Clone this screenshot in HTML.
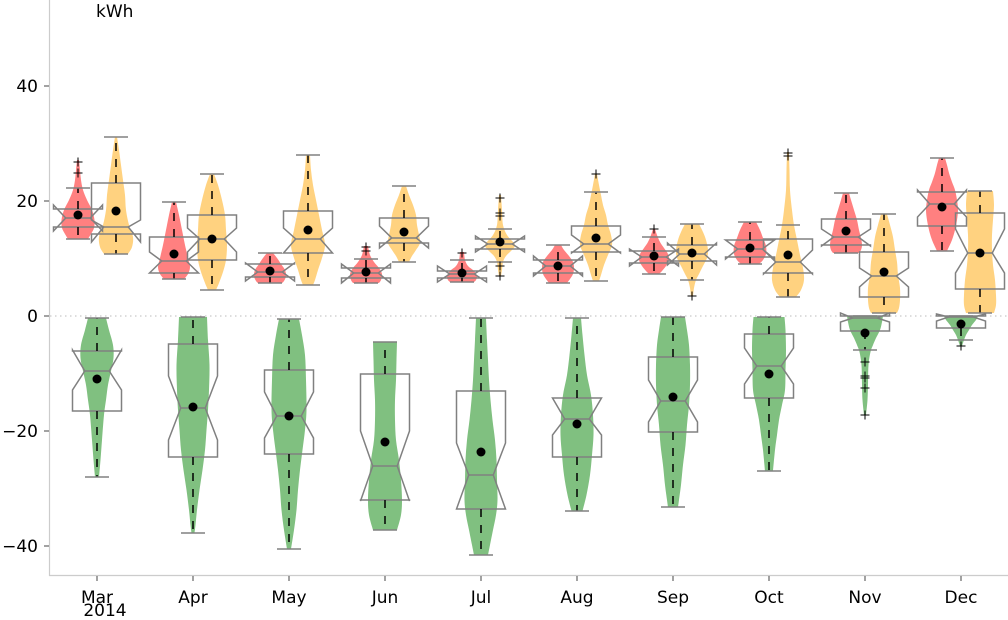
<!DOCTYPE html>
<html><head><meta charset="utf-8">
<style>
html,body{margin:0;padding:0;background:#fff;}
svg{display:block;}
text{font-family:"DejaVu Sans","Liberation Sans",sans-serif;font-size:17px;fill:#000;}
</style></head>
<body>
<svg id="svg" width="1008" height="620" viewBox="0 0 1008 620" xmlns="http://www.w3.org/2000/svg">
<rect width="1008" height="620" fill="#fff"/>
<line x1="50" y1="316" x2="1008" y2="316" stroke="#bbbbbb" stroke-width="1" stroke-dasharray="1.5,3.5"/>
<g id="plot"></g>
<line x1="49.5" y1="0" x2="49.5" y2="576" stroke="#cccccc" stroke-width="1.2"/>
<line x1="49" y1="575.5" x2="1008" y2="575.5" stroke="#cccccc" stroke-width="1.2"/>
<g stroke="#444" stroke-width="1">
<line x1="44" y1="86" x2="49" y2="86"/>
<line x1="44" y1="201" x2="49" y2="201"/>
<line x1="44" y1="316" x2="49" y2="316"/>
<line x1="44" y1="431" x2="49" y2="431"/>
<line x1="44" y1="546" x2="49" y2="546"/>
<line x1="97" y1="576" x2="97" y2="581"/>
<line x1="193" y1="576" x2="193" y2="581"/>
<line x1="289" y1="576" x2="289" y2="581"/>
<line x1="385" y1="576" x2="385" y2="581"/>
<line x1="481" y1="576" x2="481" y2="581"/>
<line x1="577" y1="576" x2="577" y2="581"/>
<line x1="673" y1="576" x2="673" y2="581"/>
<line x1="769" y1="576" x2="769" y2="581"/>
<line x1="865" y1="576" x2="865" y2="581"/>
<line x1="961" y1="576" x2="961" y2="581"/>
</g>
<g text-anchor="end">
<text x="38" y="92">40</text>
<text x="38" y="207">20</text>
<text x="38" y="322">0</text>
<text x="38" y="437">−20</text>
<text x="38" y="552">−40</text>
</g>
<g text-anchor="middle">
<text x="97" y="603">Mar</text>
<text x="105" y="616">2014</text>
<text x="193" y="603">Apr</text>
<text x="289" y="603">May</text>
<text x="385" y="603">Jun</text>
<text x="481" y="603">Jul</text>
<text x="577" y="603">Aug</text>
<text x="673" y="603">Sep</text>
<text x="769" y="603">Oct</text>
<text x="865" y="603">Nov</text>
<text x="961" y="603">Dec</text>
</g>
<text x="96" y="17">kWh</text>
</svg>
<script>
(function(){
const NS='http://www.w3.org/2000/svg';
const g=document.getElementById('plot');
function el(tag,attrs){const e=document.createElementNS(NS,tag);for(const k in attrs)e.setAttribute(k,attrs[k]);g.appendChild(e);return e;}
function cr(pts){let d='';for(let i=0;i<pts.length-1;i++){const p0=pts[i-1]||pts[i],p1=pts[i],p2=pts[i+1],p3=pts[i+2]||p2;
const c1=[p1[0]+(p2[0]-p0[0])/6,p1[1]+(p2[1]-p0[1])/6];const c2=[p2[0]-(p3[0]-p1[0])/6,p2[1]-(p3[1]-p1[1])/6];
d+='C'+c1[0].toFixed(2)+','+c1[1].toFixed(2)+' '+c2[0].toFixed(2)+','+c2[1].toFixed(2)+' '+p2[0]+','+p2[1];}return d;}
function violin(cx,prof,color){const L=prof.map(p=>[cx-p[1],p[0]]);const R=prof.slice().reverse().map(p=>[cx+p[1],p[0]]);
const d='M'+L[0][0]+','+L[0][1]+cr(L)+'L'+R[0][0]+','+R[0][1]+cr(R)+'Z';el('path',{d:d,fill:color});}
const RED='#ff8080',ORA='#ffd280',GRN='#80c080';
const D=[
{cx:78,c:RED,t:209,b:227,m:218,nT:205,nB:231,wT:188,wB:239,mean:215,out:[162,173],v:[[160,1],[170,2],[180,3],[190,5],[200,9],[210,14],[220,16.5],[228,16],[234,13],[239,10]]},
{cx:116,c:ORA,t:183,b:234,m:227,nT:220,nB:242,wT:137,wB:254,mean:211,out:[],v:[[137,1],[150,3],[165,5],[180,7],[195,9],[210,10],[225,13],[237,17],[247,16],[254,12]]},
{cx:97,c:GRN,t:351,b:411,m:371,nT:350,nB:390,wT:318,wB:477,mean:379,out:[],v:[[318,9],[330,12],[345,16],[358,16.5],[371,14],[385,11],[400,9],[415,7],[440,5],[460,3.5],[477,2]]},
{cx:174,c:RED,t:237,b:273,m:261,nT:252,nB:273,wT:202,wB:279,mean:254,out:[],v:[[202,2],[215,5],[230,8],[245,11],[258,14],[267,16],[274,14],[279,10]]},
{cx:212,c:ORA,t:215,b:260,m:239,nT:228,nB:252,wT:174,wB:290,mean:239,out:[],v:[[174,2],[185,6],[200,10],[215,13],[230,14],[245,15],[260,14],[272,11],[283,7],[290,4]]},
{cx:193,c:GRN,t:344,b:457,m:408,nT:376,nB:440,wT:317,wB:533,mean:407,out:[],v:[[317,14],[340,15],[365,16.5],[390,16],[410,15],[430,13.5],[450,12],[470,9.5],[490,6.5],[510,4],[525,2.5],[533,1.5]]},
{cx:270,c:RED,t:264,b:277,m:272,nT:263,nB:281,wT:253,wB:283,mean:271,out:[],v:[[253,3],[258,7],[264,11],[270,15],[276,16],[281,14],[283,12]]},
{cx:308,c:ORA,t:211,b:253,m:239,nT:228,nB:253,wT:155,wB:285,mean:230,out:[],v:[[155,2],[170,3],[185,5],[200,8],[215,11],[230,14],[245,17],[258,14],[270,10],[280,7],[285,5]]},
{cx:289,c:GRN,t:370,b:454,m:416,nT:392,nB:438,wT:319,wB:549,mean:416,out:[],v:[[319,10],[335,13],[355,16],[380,17],[410,17.5],[430,16],[450,13.5],[470,11],[490,9],[510,7.5],[530,5],[549,2]]},
{cx:366,c:RED,t:268,b:278,m:273,nT:264,nB:283,wT:259,wB:283,mean:272,out:[247,251],v:[[246,2],[255,4],[262,8],[268,13],[274,16],[280,15],[283,13]]},
{cx:404,c:ORA,t:218,b:243,m:238,nT:226,nB:248,wT:186,wB:262,mean:232,out:[],v:[[186,2],[195,5],[205,9],[215,12],[225,13],[235,15],[243,16],[250,12],[256,8],[262,5]]},
{cx:385,c:GRN,t:374,b:500,m:466,nT:431,nB:501,wT:342,wB:530,mean:442,out:[],v:[[342,12],[360,11.5],[380,11],[400,10],[420,10],[440,11],[460,14],[480,16],[500,17],[515,16],[530,12]]},
{cx:462,c:RED,t:271,b:278,m:274,nT:266,nB:282,wT:260,wB:282,mean:273,out:[253],v:[[252,2],[260,3],[266,6],[271,12],[276,15],[280,14],[282,12]]},
{cx:500,c:ORA,t:239,b:249,m:244,nT:236,nB:252,wT:229,wB:262,mean:242,out:[198,213,216,266,276],v:[[195,1],[210,2],[225,3],[235,7],[242,13],[246,15],[251,11],[256,6],[262,3],[270,2],[276,1]]},
{cx:481,c:GRN,t:391,b:509,m:475,nT:443,nB:509,wT:318,wB:555,mean:452,out:[],v:[[318,5],[340,6],[360,7],[380,8],[400,9.5],[420,11.5],[440,14],[460,15.5],[480,16],[500,16.5],[515,15],[530,12],[545,9],[555,7]]},
{cx:558,c:RED,t:260,b:273,m:266,nT:256,nB:276,wT:245,wB:283,mean:266,out:[],v:[[245,3],[250,6],[256,11],[262,15],[268,16],[274,15],[279,12],[283,9]]},
{cx:596,c:ORA,t:226,b:252,m:244,nT:235,nB:253,wT:192,wB:281,mean:238,out:[174],v:[[174,1],[185,3],[195,5],[205,7],[215,10],[225,12],[235,15],[245,16],[255,12],[265,8],[275,5],[281,3]]},
{cx:577,c:GRN,t:398,b:457,m:419,nT:398,nB:435,wT:318,wB:511,mean:424,out:[],v:[[318,4],[335,5.5],[355,7.5],[375,10],[395,14],[415,16],[435,16.5],[455,15],[475,13],[495,9.5],[511,5.5]]},
{cx:654,c:RED,t:251,b:263,m:257,nT:249,nB:266,wT:237,wB:274,mean:256,out:[229],v:[[229,1],[235,3],[242,6],[248,10],[254,14],[260,15],[266,12],[271,8],[274,5]]},
{cx:692,c:ORA,t:245,b:261,m:254,nT:243,nB:265,wT:224,wB:280,mean:253,out:[296],v:[[224,7],[232,11],[240,14],[250,16],[258,15],[266,11],[274,7],[280,4],[288,2],[296,1]]},
{cx:673,c:GRN,t:357,b:432,m:401,nT:380,nB:422,wT:317,wB:507,mean:397,out:[],v:[[317,12],[330,14],[345,16],[365,17],[385,17],[405,16],[425,14],[445,12.5],[465,10],[485,8],[500,6],[507,5]]},
{cx:750,c:RED,t:240,b:257,m:249,nT:240,nB:259,wT:222,wB:264,mean:248,out:[],v:[[222,6],[230,10],[238,13],[246,16],[254,16],[260,13],[264,9]]},
{cx:788,c:ORA,t:239,b:273,m:262,nT:250,nB:274,wT:225,wB:297,mean:255,out:[153,156],v:[[152,1],[170,1.5],[190,2],[210,4],[225,6],[240,9],[255,12],[268,15],[280,16],[290,13],[297,8]]},
{cx:769,c:GRN,t:334,b:398,m:366,nT:348,nB:384,wT:317,wB:471,mean:374,out:[],v:[[317,15.5],[330,16.5],[350,17],[370,16.5],[390,16],[405,13],[420,10],[435,8],[450,6],[471,4]]},
{cx:846,c:RED,t:219,b:245,m:237,nT:229,nB:246,wT:193,wB:253,mean:231,out:[],v:[[193,3],[200,5],[210,8],[220,11],[230,13],[238,15],[245,16],[250,15],[253,13]]},
{cx:884,c:ORA,t:252,b:297,m:276,nT:268,nB:287,wT:214,wB:313,mean:272,out:[],v:[[214,3],[225,6],[237,9],[250,11],[262,13],[275,14],[288,16],[300,16],[308,15],[313,13]]},
{cx:865,c:GRN,t:316,b:331,m:318,nT:313,nB:322,wT:316,wB:350,mean:333,out:[362,376,378,388,415],v:[[316,18],[322,17],[330,15],[338,11],[345,8],[352,5.5],[365,3.5],[385,3],[400,2.5],[415,1]]},
{cx:942,c:RED,t:192,b:226,m:204,nT:190,nB:217,wT:158,wB:251,mean:207,out:[],v:[[158,3],[165,5],[173,7],[182,10],[190,13],[200,15],[210,16],[220,15],[230,13],[240,10],[251,5]]},
{cx:980,c:ORA,t:213,b:289,m:253,nT:229,nB:273,wT:191,wB:313,mean:253,out:[],v:[[191,13],[205,14],[220,13],[235,12],[250,12],[265,13],[280,15],[295,16],[305,16],[313,14]]},
{cx:961,c:GRN,t:316,b:328,m:317,nT:314,nB:321,wT:316,wB:340,mean:324,out:[346],v:[[316,17],[320,15],[325,11],[330,8],[335,5],[340,3],[346,1]]}
];
D.forEach(o=>violin(o.cx,o.v,o.c));
const W=24.5;
D.forEach(o=>{
 const L=o.cx-W,R=o.cx+W,nl=o.cx-W/2,nr=o.cx+W/2;
 const d='M'+L+','+o.b+'L'+L+','+o.nB+'L'+nl+','+o.m+'L'+L+','+o.nT+'L'+L+','+o.t+'L'+R+','+o.t+'L'+R+','+o.nT+'L'+nr+','+o.m+'L'+R+','+o.nB+'L'+R+','+o.b+'Z';
 el('path',{d:d,fill:'none',stroke:'#808080','stroke-width':1.5});
 el('line',{x1:nl,x2:nr,y1:o.m,y2:o.m,stroke:'#808080','stroke-width':1.5});
 if(o.wT<o.t) el('line',{x1:o.cx,x2:o.cx,y1:o.t,y2:o.wT,stroke:'#000','stroke-width':1.5,'stroke-dasharray':'8,8'});
 if(o.wB>o.b) el('line',{x1:o.cx,x2:o.cx,y1:o.b,y2:o.wB,stroke:'#000','stroke-width':1.5,'stroke-dasharray':'8,8'});
 el('line',{x1:o.cx-12,x2:o.cx+12,y1:o.wT,y2:o.wT,stroke:'#808080','stroke-width':1.5});
 el('line',{x1:o.cx-12,x2:o.cx+12,y1:o.wB,y2:o.wB,stroke:'#808080','stroke-width':1.5});
 o.out.forEach(y=>{
  el('line',{x1:o.cx-4.5,x2:o.cx+4.5,y1:y,y2:y,stroke:'#000','stroke-width':1});
  el('line',{x1:o.cx,x2:o.cx,y1:y-4.5,y2:y+4.5,stroke:'#000','stroke-width':1});
 });
});
D.forEach(o=>el('circle',{cx:o.cx,cy:o.mean,r:4.5,fill:'#000'}));
})();
</script>
</body></html>
